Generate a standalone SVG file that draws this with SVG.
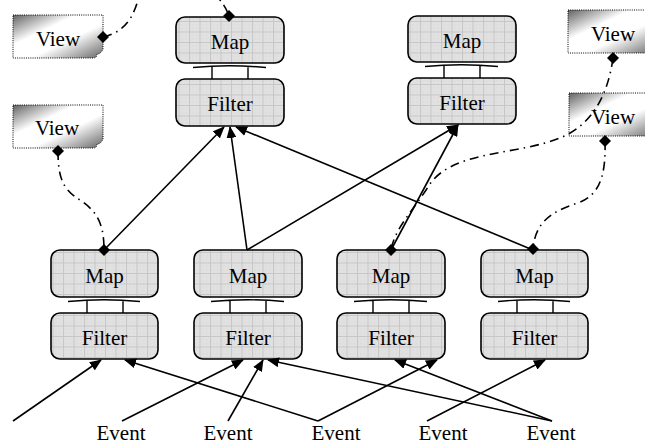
<svg xmlns="http://www.w3.org/2000/svg" width="645" height="446" viewBox="0 0 645 446">
<style>
.box{fill:url(#grid);stroke:#000;stroke-width:1.6}
.lbl{font-family:"Liberation Serif","Times New Roman",serif;font-size:21px;fill:#000;text-anchor:middle}
.view{fill:url(#vgrad);stroke:#000;stroke-width:1;stroke-dasharray:1,1.2}
.arr{fill:none;stroke:#000;stroke-width:1.6;marker-end:url(#ah)}
.dd{fill:none;stroke:#000;stroke-width:1.6;stroke-dasharray:9,5,1.5,5}
.pipe{fill:none;stroke:#000;stroke-width:1.4}
</style>
<defs>
<pattern id="grid" patternUnits="userSpaceOnUse" width="10.5" height="10.5">
<rect width="10.5" height="10.5" fill="#e1e1e1"/>
<path d="M0,0.5H10.5M0.5,0V10.5" stroke="#c6c6c6" stroke-width="1"/>
<path d="M3,3h1v1h-1zM7,7h1v1h-1zM7,3h1v1h-1zM3,7h1v1h-1z" fill="#d4d4d4"/>
</pattern>
<linearGradient id="vgrad" x1="0" y1="0" x2="1" y2="1">
<stop offset="0" stop-color="#626262"/>
<stop offset="0.35" stop-color="#ffffff"/>
<stop offset="0.6" stop-color="#ffffff"/>
<stop offset="1" stop-color="#666666"/>
</linearGradient>
<marker id="ah" viewBox="0 0 12 10" refX="11" refY="5" markerWidth="12" markerHeight="10" markerUnits="userSpaceOnUse" orient="auto">
<path d="M0,0L12,5L0,10z" fill="#000"/>
</marker>
<path id="dia" d="M0,-6L6,0L0,6L-6,0z" fill="#000"/>
<path id="vshape" d="M0,0H90V34Q88,39 84,39Q84,43 80,43H0z"/>
</defs>

<g id="view-top-left"><use href="#vshape" class="view" x="13" y="15"/><text class="lbl" x="58" y="46">View</text></g>
<g id="view-left"><use href="#vshape" class="view" x="13" y="105"/><text class="lbl" x="57" y="135">View</text></g>
<g id="view-top-right"><use href="#vshape" class="view" x="568" y="10"/><text class="lbl" x="613" y="41">View</text></g>
<g id="view-right"><use href="#vshape" class="view" x="569" y="93"/><text class="lbl" x="613" y="124">View</text></g>

<g id="map-top-left"><rect class="box" x="176" y="17" width="108" height="46" rx="9"/><text class="lbl" x="230" y="49">Map</text></g>
<g id="filter-top-left"><rect class="box" x="176" y="79" width="108" height="47" rx="9"/><text class="lbl" x="230" y="111">Filter</text></g>
<g id="map-top-right"><rect class="box" x="408" y="16" width="108" height="46" rx="9"/><text class="lbl" x="462" y="48">Map</text></g>
<g id="filter-top-right"><rect class="box" x="408" y="78" width="108" height="46" rx="9"/><text class="lbl" x="462" y="110">Filter</text></g>

<g id="map-1"><rect class="box" x="51" y="250" width="107" height="47" rx="9"/><text class="lbl" x="104.5" y="283">Map</text></g>
<g id="filter-1"><rect class="box" x="51" y="313" width="107" height="46" rx="9"/><text class="lbl" x="104.5" y="345">Filter</text></g>
<g id="map-2"><rect class="box" x="194" y="250" width="108" height="47" rx="9"/><text class="lbl" x="248" y="283">Map</text></g>
<g id="filter-2"><rect class="box" x="194" y="313" width="108" height="46" rx="9"/><text class="lbl" x="248" y="345">Filter</text></g>
<g id="map-3"><rect class="box" x="337" y="250" width="108" height="47" rx="9"/><text class="lbl" x="391" y="283">Map</text></g>
<g id="filter-3"><rect class="box" x="337" y="313" width="108" height="46" rx="9"/><text class="lbl" x="391" y="345">Filter</text></g>
<g id="map-4"><rect class="box" x="481" y="250" width="107" height="47" rx="9"/><text class="lbl" x="534.5" y="283">Map</text></g>
<g id="filter-4"><rect class="box" x="481" y="313" width="107" height="46" rx="9"/><text class="lbl" x="534.5" y="345">Filter</text></g>

<g id="event-1"><text class="lbl" x="121" y="440">Event</text></g>
<g id="event-2"><text class="lbl" x="228" y="440">Event</text></g>
<g id="event-3"><text class="lbl" x="336" y="440">Event</text></g>
<g id="event-4"><text class="lbl" x="443" y="440">Event</text></g>
<g id="event-5"><text class="lbl" x="551" y="440">Event</text></g>

<g id="connectors">
<g class="pipe">
<path d="M193,67.5Q229,64 266,67.5M212,67V79M248,67V79" />
<path d="M425,66.5Q461,63 498,66.5M444,66V78M480,66V78" />
<path d="M68,301.5Q104,298 140,301.5M87,301V313M123,301V313" />
<path d="M211,301.5Q248,298 284,301.5M230,301V313M266,301V313" />
<path d="M354,301.5Q391,298 427,301.5M373,301V313M409,301V313" />
<path d="M498,301.5Q534,298 570,301.5M517,301V313M553,301V313" />
</g>
<path class="arr" d="M13,421L101,360"/>
<path class="arr" d="M122,421L243,360"/>
<path class="arr" d="M318,421L125,360"/>
<path class="arr" d="M228,421L263,360"/>
<path class="arr" d="M552,421L268,360"/>
<path class="arr" d="M318,421L437,360"/>
<path class="arr" d="M552,421L395,360"/>
<path class="arr" d="M427,421L545,360"/>
<path class="arr" d="M104,250L224,127"/>
<path class="arr" d="M247,250L230,127"/>
<path class="arr" d="M533,250L236,127"/>
<path class="arr" d="M247,250L458,125"/>
<path class="arr" d="M391,250L458,125"/>
<path class="dd" d="M103,37C132,30 136,8 142,-15C150,-35 215,-25 229,16"/>
<path class="dd" d="M58,151C58,180 64,190 80,200C98,212 104,225 104,250"/>
<path class="dd" d="M613,58C608,95 592,125 560,138C515,156 450,150 428,187C412,212 395,228 391,250"/>
<path class="dd" d="M605,141C606,175 600,195 578,203C548,212 535,225 533,249"/>
<use href="#dia" x="103" y="37"/>
<use href="#dia" x="229" y="16"/>
<use href="#dia" x="58" y="151"/>
<use href="#dia" x="104" y="250"/>
<use href="#dia" x="613" y="58"/>
<use href="#dia" x="605" y="141"/>
<use href="#dia" x="391" y="250"/>
<use href="#dia" x="533" y="249"/>
</g>
</svg>
